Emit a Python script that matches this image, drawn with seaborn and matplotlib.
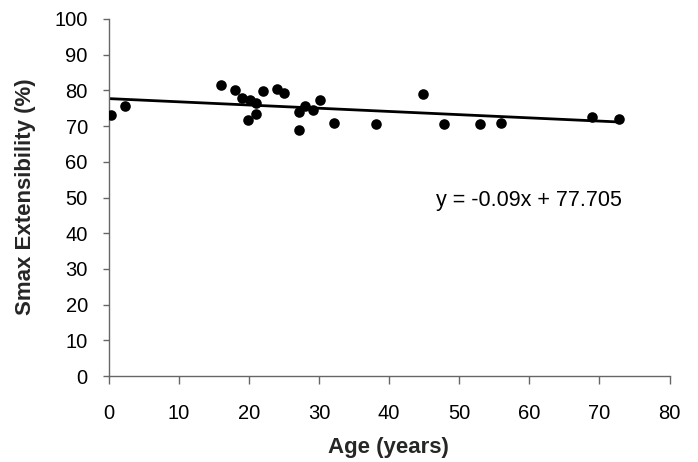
import matplotlib
matplotlib.use("Agg")
import matplotlib.pyplot as plt
import seaborn as sns
import numpy as np
import pandas as pd

# Data
age = [0.3, 2.3, 16.0, 18.0, 19.0, 19.9, 20.1, 21.0, 21.0, 22.0, 24.0, 25.0,
       27.1, 27.1, 28.0, 29.1, 30.1, 32.1, 38.1, 44.9, 47.9, 52.9, 55.9, 69.0, 72.8]
smax = [73.2, 75.5, 81.5, 80.0, 78.0, 71.6, 77.2, 76.4, 73.3, 79.9, 80.5, 79.4,
        73.9, 68.8, 75.7, 74.4, 77.2, 71.0, 70.5, 79.1, 70.5, 70.5, 71.0, 72.5, 72.0]
slope = -0.09
intercept = 77.705
x_ticks = list(range(0, 81, 10))
y_ticks = list(range(0, 101, 10))
equation = "y = -0.09x + 77.705"

sns.set_style("white")
plt.rcParams["font.family"] = ["Liberation Sans", "DejaVu Sans"]

df = pd.DataFrame({"Age": age, "Smax": smax})
line_x = [0, max(age)]
line_df = pd.DataFrame({"Age": line_x, "Fit": [slope * v + intercept for v in line_x]})

fig = plt.figure(figsize=(6.98, 4.62), dpi=100)
ax = fig.add_axes([108.6 / 698, 1 - 376 / 462, (669.6 - 108.6) / 698, (376 - 19) / 462])

sns.lineplot(data=line_df, x="Age", y="Fit", ax=ax, color="black", linewidth=2.0)
sns.scatterplot(data=df, x="Age", y="Smax", ax=ax, color="black", s=58,
                edgecolor="black", linewidth=0, zorder=3)

ax.set_xlim(0, 80)
ax.set_ylim(0, 100)
ax.set_xticks(x_ticks)
ax.set_yticks(y_ticks)
ax.set_xticklabels([str(t) for t in x_ticks])
ax.set_yticklabels([str(t) for t in y_ticks])
ax.set_xlabel("")
ax.set_ylabel("")

for s in ["top", "right"]:
    ax.spines[s].set_visible(False)
for s in ["left", "bottom"]:
    ax.spines[s].set_color("#666666")
    ax.spines[s].set_linewidth(1.0)

ax.tick_params(axis="x", direction="out", length=6, width=1, color="#666666",
               labelsize=14.5, pad=14, labelcolor="black", bottom=True)
ax.tick_params(axis="y", direction="out", length=4, width=1, color="#666666",
               labelsize=14.5, pad=11, labelcolor="black", left=True)

ax.text(46.7, 49.1, equation, fontsize=15.5, ha="left", va="center", color="black")

fig.text(26 / 698, 1 - 197 / 462, "Smax Extensibility (%)", rotation=90,
         ha="center", va="center", fontsize=16, fontweight="bold")
fig.text(388 / 698, 1 - 447 / 462, "Age (years)", ha="center", va="center",
         fontsize=16, fontweight="bold")

fig.savefig("out.png", dpi=100)
